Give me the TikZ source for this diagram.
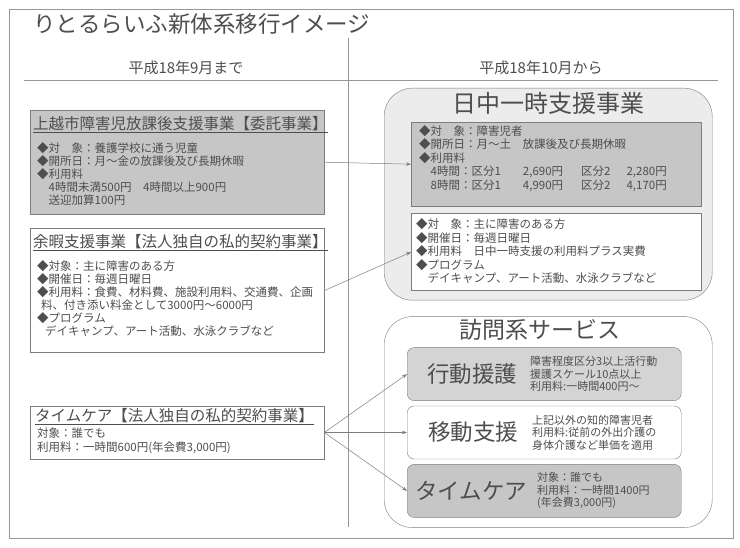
\documentclass[tikz,border=0pt]{standalone}
\usepackage{fontspec}
\setmainfont{Noto Sans CJK JP}
\usetikzlibrary{positioning, arrows.meta}
\definecolor{InkGray}{RGB}{78, 78, 78}
\definecolor{LineGray}{RGB}{125, 125, 125}
\definecolor{BoxGray}{RGB}{198, 198, 198}
\definecolor{SoftGray}{RGB}{212, 212, 212}
\definecolor{PanelGray}{RGB}{236, 236, 236}

\begin{document}
\begin{tikzpicture}[
        x=1pt, y=-1pt, text=InkGray,
        frame/.style={draw=LineGray!80, line width=0.6pt},
        oldbox/.style={draw=LineGray, rectangle, minimum width=294pt, inner sep=0pt, anchor=north west},
        panel/.style={draw=LineGray, rectangle, rounded corners=28pt, minimum width=328pt, inner sep=0pt, anchor=north west},
        innerbox/.style={draw=LineGray, rectangle, minimum width=290pt, inner sep=0pt},
        servbox/.style={draw=LineGray, rectangle, rounded corners=7pt, minimum width=274pt, minimum height=53pt, inner sep=0pt},
        maintitle/.style={font=\fontsize{22.5}{26}\selectfont, inner sep=0pt},
        header/.style={font=\fontsize{15}{18}\selectfont, inner sep=0pt},
        boxtitle/.style={font=\fontsize{15.5}{18}\selectfont, inner sep=0pt, anchor=north west},
        boxtext/.style={font=\fontsize{11.5}{13}\selectfont, align=left, inner sep=0pt, anchor=north west},
        bigtitle/.style={font=\fontsize{24}{28}\selectfont, inner sep=0pt},
        bigname/.style={font=\fontsize{22.5}{26}\selectfont, inner sep=0pt},
        smalltext/.style={font=\fontsize{11}{12.5}\selectfont, align=left, inner sep=0pt},
        titlerule/.style={draw=InkGray, line width=0.6pt},
        arrow/.style={-{Stealth[length=5pt, width=3.5pt]}, draw=LineGray, line width=0.5pt}
      ]
        \path[use as bounding box, fill=white] (0,0) rectangle (740,548);

        % Frame and headings
        \draw[frame] (9,9) rectangle (733,538);
        \node[maintitle, anchor=west] (title) at (33,24) {りとるらいふ新体系移行イメージ};
        \node[header] (before) at (186,68) {平成18年9月まで};
        \node[header] (after) at (541,68) {平成18年10月から};
        \draw[frame] (24,80) -- (718,80);
        \draw[frame] (348,38) -- (348,527);

        % Left side: until Sept.
        \node[oldbox, fill=BoxGray, minimum height=104pt] (kyu1) at (30,110) {};
        \node[boxtitle, below right=6pt and 3pt of kyu1.north west] (kyu1t) {上越市障害児放課後支援事業【委託事業】};
        \draw[titlerule] ([yshift=-1pt]kyu1t.south west) -- ([xshift=4pt, yshift=-1pt]kyu1.east |- kyu1t.south);
        \node[boxtext, below right=11pt and 4pt of kyu1t.south west] (kyu1b) {◆対　象：養護学校に通う児童\\
          ◆開所日：月～金の放課後及び長期休暇\\
          ◆利用料\\
          　4時間未満500円　4時間以上900円\\
          　送迎加算100円};

        \node[oldbox, fill=white, minimum height=124pt, below=14pt of kyu1] (yoka) {};
        \node[boxtitle, below right=6pt and 3pt of yoka.north west] (yokat) {余暇支援事業【法人独自の私的契約事業】};
        \draw[titlerule] ([yshift=-1pt]yokat.south west) -- ([xshift=4pt, yshift=-1pt]yoka.east |- yokat.south);
        \node[boxtext, below right=11pt and 4pt of yokat.south west] (yokab) {◆対象：主に障害のある方\\
          ◆開催日：毎週日曜日\\
          ◆利用料：食費、材料費、施設利用料、交通費、企画\\
          \hspace*{4pt}料、付き添い料金として3000円～6000円\\
          ◆プログラム\\
          \hspace*{8pt}デイキャンプ、アート活動、水泳クラブなど};

        \node[oldbox, fill=white, minimum height=53pt, below=53pt of yoka] (tcare) {};
        \node[boxtitle, below right=2.5pt and 5pt of tcare.north west] (tcaret) {タイムケア【法人独自の私的契約事業】};
        \draw[titlerule] ([yshift=-1pt]tcaret.south west) -- ([yshift=-1pt]tcaret.south east);
        \node[boxtext, below right=4pt and 2pt of tcaret.south west, font=\fontsize{11.5}{14}\selectfont] (tcareb) {対象：誰でも\\
          利用料：一時間600円(年会費3,000円)};

        % Right side: from Oct.
        \node[panel, fill=PanelGray, minimum height=212pt] (nichu) at (384,88) {};
        \node[bigtitle, below=4pt of nichu.north] (nichut) {日中一時支援事業};
        \node[innerbox, fill=BoxGray, minimum height=84pt, anchor=north west, below right=34pt and 27pt of nichu.north west] (nichug) {};
        \node[boxtext, below right=3pt and 8pt of nichug.north west, font=\fontsize{11.5}{13.5}\selectfont] (nichugb) {◆対　象：障害児者\\
          ◆開所日：月～土　放課後及び長期休暇\\
          ◆利用料\\
          　4時間：区分1\hspace{22pt}2,690円\hspace{18pt}区分2\hspace{16pt}2,280円\\
          　8時間：区分1\hspace{22pt}4,990円\hspace{18pt}区分2\hspace{16pt}4,170円};
        \node[innerbox, fill=white, minimum height=77pt, below=7pt of nichug] (nichuw) {};
        \node[boxtext, below right=5pt and 5pt of nichuw.north west, font=\fontsize{11.5}{13.5}\selectfont] (nichuwb) {◆対　象：主に障害のある方\\
          ◆開催日：毎週日曜日\\
          ◆利用料　日中一時支援の利用料プラス実費\\
          ◆プログラム\\
          　デイキャンプ、アート活動、水泳クラブなど};

        \node[panel, fill=white, minimum height=211pt, below=16pt of nichu] (houmon) {};
        \node[bigtitle, font=\fontsize{23}{27}\selectfont, below=3pt of houmon.north, xshift=-8pt] (houmont) {訪問系サービス};
        \node[servbox, fill=SoftGray, anchor=north west, below right=31pt and 23pt of houmon.north west] (koudou) {};
        \node[bigname, right=20pt of koudou.west] (koudoun) {行動援護};
        \node[smalltext, right=123pt of koudou.west] (koudous) {障害程度区分3以上活行動\\
          援護スケール10点以上\\
          利用料:一時間400円～};
        \node[servbox, fill=white, below=5pt of koudou] (idou) {};
        \node[bigname, right=21pt of idou.west] (idoun) {移動支援};
        \node[smalltext, right=125pt of idou.west] (idous) {上記以外の知的障害児者\\
          利用料:従前の外出介護の\\
          身体介護など単価を適用};
        \node[servbox, fill=BoxGray, below=5pt of idou] (tcare2) {};
        \node[bigname, right=8pt of tcare2.west] (tcare2n) {タイムケア};
        \node[smalltext, right=130pt of tcare2.west] (tcare2s) {対象：誰でも\\
          利用料：一時間1400円\\
          (年会費3,000円)};

        % Connections
        \draw[arrow] (kyu1.east) -- (nichug.west);
        \draw[arrow] (yoka.east) -- (nichuw.west);
        \draw[arrow] (tcare.east) -- (koudou.west);
        \draw[arrow] (tcare.east) -- (idou.west);
        \draw[arrow] (tcare.east) -- (tcare2.west);
      \end{tikzpicture}
\end{document}
